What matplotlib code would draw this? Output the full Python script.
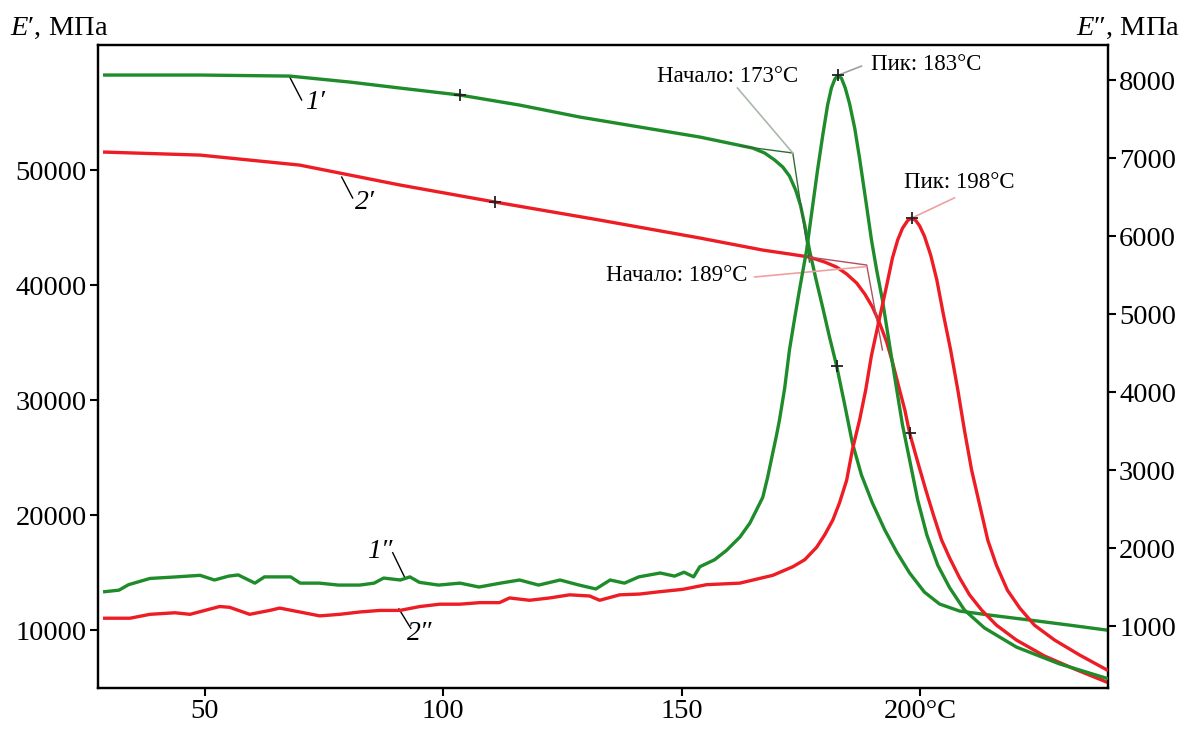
import matplotlib
matplotlib.use('Agg')
import matplotlib.pyplot as plt

plt.rcParams['font.family'] = ['Liberation Serif', 'DejaVu Serif']
plt.rcParams['mathtext.fontset'] = 'custom'
plt.rcParams['mathtext.it'] = 'Liberation Serif:italic'
plt.rcParams['mathtext.rm'] = 'Liberation Serif'

# curve 1' : E' (green), MPa
t_e1 = [29, 49, 67.8, 80.4, 90.9, 103.5, 116, 128.6, 141.2, 153.8, 164.9, 167.4, 169.5, 171.2,
        172.6, 173.9, 174.9, 175.8, 176.8, 178.1, 179.6, 181.0, 182.5, 184.2, 185.8, 187.7,
        190.0, 192.6, 195.1, 197.8, 200.9, 204.1, 208.3, 214.6, 223.0, 231.3, 239.1]
e1 = [58260, 58260, 58170, 57650, 57130, 56520, 55650, 54610, 53740, 52870, 51910, 51480, 50870,
      50260, 49480, 48260, 46960, 45220, 43040, 40610, 38000, 35480, 32960, 29570, 26260, 23480,
      21040, 18700, 16780, 14960, 13300, 12260, 11650, 11300, 10870, 10430, 10000]

# curve 2' : E' (red), MPa
t_e2 = [29, 49, 69.9, 90.9, 110.8, 132.8, 153.8, 167.0, 172.6, 176.8, 180.0, 182.5, 184.6,
        186.7, 188.4, 190.0, 191.5, 193.0, 194.2, 195.7, 196.8, 197.8, 199.5, 201.2, 202.8,
        204.5, 206.2, 208.3, 210.4, 212.9, 216.0, 220.2, 226.1, 232.4, 239.1]
e2 = [51560, 51300, 50430, 48700, 47220, 45650, 44090, 43040, 42700, 42430, 42000, 41560, 40960,
      40170, 39220, 38090, 36700, 35040, 33300, 30870, 29130, 27130, 24610, 22170, 20000, 17830,
      16260, 14520, 13040, 11740, 10430, 9130, 7740, 6610, 5480]

# curve 1'' : E'' (green), MPa
t_l1 = [29, 32, 34, 38.5, 44, 49, 52, 55, 57, 60.5, 62.5, 68, 70, 74, 78, 82.5, 85.5, 87.5, 91,
        93, 95, 99, 103.5, 107.5, 112, 116, 120, 124.5, 128.5, 132, 135, 138, 141, 145.5, 148.5,
        150.5, 152.5, 153.8, 156.9, 159.4, 162.2, 164.3, 165.7, 167.0, 168.0, 169.1, 169.9, 170.5,
        171.6, 172.6, 173.7, 174.7, 176.2, 177.2, 178.5, 179.6, 180.6, 181.4, 182.1, 182.7, 183.5,
        184.3, 185.2, 186.3, 187.3, 188.6, 189.8, 190.9, 192.1, 193.6, 195.1, 196.3, 197.8, 199.5,
        201.4, 203.7, 206.2, 209.3, 213.5, 220.2, 229.2, 239.1]
l1 = [1440, 1460, 1530, 1610, 1630, 1650, 1590, 1640, 1655, 1550, 1630, 1630, 1550, 1550, 1525,
      1525, 1550, 1615, 1590, 1630, 1560, 1525, 1550, 1500, 1550, 1590, 1525, 1590, 1525, 1475,
      1590, 1550, 1630, 1680, 1640, 1690, 1630, 1760, 1850, 1970, 2140, 2320, 2490, 2650, 2900,
      3220, 3450, 3640, 4050, 4540, 4950, 5310, 5820, 6270, 6850, 7300, 7680, 7900, 8010, 8060,
      8025, 7900, 7700, 7380, 7000, 6460, 5950, 5560, 5180, 4600, 4030, 3580, 3130, 2615, 2170,
      1780, 1490, 1205, 975, 730, 515, 330]

# curve 2'' : E'' (red), MPa
t_l2 = [29, 34.3, 38.5, 43.7, 46.9, 50.0, 53.1, 55.2, 59.4, 63.6, 65.7, 69.9, 74.1, 78.3, 82.5,
        86.7, 90.9, 95.1, 99.3, 103.5, 107.7, 111.8, 113.9, 118.1, 122.3, 126.5, 130.7, 132.8,
        137.0, 141.2, 145.4, 150.2, 155.2, 162.2, 169.1, 173.3, 175.8, 178.3, 180.0, 181.7, 183.1,
        184.6, 185.8, 187.3, 188.6, 189.8, 191.5, 193.0, 194.2, 195.3, 196.3, 197.4, 198.2, 199.1,
        199.9, 200.9, 202.2, 203.5, 204.9, 206.4, 207.9, 209.3, 210.8, 212.5, 214.2, 216.0, 218.3,
        220.9, 224.0, 228.2, 233.4, 239.1]
l2 = [1100, 1100, 1150, 1170, 1150, 1200, 1250, 1240, 1150, 1200, 1230, 1180, 1130, 1150, 1180,
      1200, 1200, 1250, 1280, 1280, 1300, 1300, 1360, 1330, 1360, 1400, 1385, 1330, 1400, 1410,
      1440, 1470, 1530, 1550, 1650, 1760, 1850, 2010, 2170, 2360, 2580, 2870, 3260, 3640, 4030,
      4470, 4950, 5370, 5720, 5950, 6100, 6200, 6230, 6200, 6130, 6000, 5760, 5440, 4990, 4540,
      4030, 3510, 3000, 2550, 2100, 1780, 1460, 1230, 1010, 820, 630, 440]

GREEN = '#1e8c2a'
RED = '#ee1c24'

fig = plt.figure(figsize=(11.91, 7.31), dpi=100)
ax = fig.add_axes([0.0823, 0.0588, 0.848, 0.8796])
ax2 = ax.twinx()

ax.plot(t_e1, e1, color=GREEN, lw=2.4, zorder=3)
ax.plot(t_e2, e2, color=RED, lw=2.4, zorder=3)
ax2.plot(t_l1, l1, color=GREEN, lw=2.4, zorder=3)
ax2.plot(t_l2, l2, color=RED, lw=2.4, zorder=3)

ax.set_xlim(27.6, 239.4)
ax.set_ylim(4960, 60870)
ax2.set_ylim(205, 8450)

ax.set_xticks([50, 100, 150, 200])
ax.set_xticklabels(['50', '100', '150', '200°C'])
ax.set_yticks([10000, 20000, 30000, 40000, 50000])
ax2.set_yticks(range(1000, 9000, 1000))

for a in (ax, ax2):
    for s in a.spines.values():
        s.set_linewidth(1.6)
    a.tick_params(labelsize=20.5, length=6, width=1.5, direction='out', pad=2)

# onset constructions
ax.plot([162.2, 173.3, 176.8], [52090, 51480, 42000], color='#2f6b35', lw=1.0, zorder=4)
ax.plot([161.7, 173.3], [57130, 51480], color='#a9b8a9', lw=1.2, zorder=4)
ax.plot([176.8, 188.8, 192.1], [42430, 41740, 34350], color='#b05060', lw=1.0, zorder=4)
ax.plot([165.3, 188.6], [40700, 41600], color='#f0a0a0', lw=1.2, zorder=4)

# peak leaders
ax2.plot([182.7, 187.7], [8060, 8180], color='#a0a0a0', lw=1.2, zorder=4)
ax2.plot([198.2, 207.2], [6230, 6490], color='#f0a0a0', lw=1.2, zorder=4)

# markers
ax.plot([103.5, 182.5], [56520, 32960], '+', color='#222222', ms=9, mew=1.3, zorder=5)
ax.plot([110.8, 197.8], [47220, 27130], '+', color='#222222', ms=9, mew=1.3, zorder=5)
ax2.plot([182.7, 198.2], [8060, 6230], '+', color='#222222', ms=9, mew=1.3, zorder=5)

ann = dict(fontsize=16.5, ha='center', va='center', zorder=6)
ax.text(159.6, 58170, 'Начало: 173°C', **ann)
ax.text(149.0, 40870, 'Начало: 189°C', **ann)
ax2.text(201.2, 8205, 'Пик: 183°C', **ann)
ax2.text(208.3, 6690, 'Пик: 198°C', **ann)

# curve labels
lab = dict(fontsize=20, fontstyle='italic', ha='center', va='center')
ax.plot([67.8, 70.3], [58090, 56090], color='black', lw=1.0)
ax.text(73.1, 55910, '1′', **lab)
ax.plot([78.7, 81.0], [49390, 47570], color='black', lw=1.0)
ax.text(83.5, 47220, '2′', **lab)
ax2.plot([89.4, 92.1], [1940, 1600], color='black', lw=1.0)
ax2.text(86.7, 1950, '1″', **lab)
ax2.plot([90.7, 93.2], [1220, 970], color='black', lw=1.0)
ax2.text(95.1, 910, '2″', **lab)

fig.text(10 / 1191, 1 - 28 / 731, '$E$′, МПа', fontsize=20.5, ha='left', va='center')
fig.text(1180 / 1191, 1 - 28 / 731, '$E$″, МПа', fontsize=20.5, ha='right', va='center')

fig.savefig('out.png', dpi=100)
